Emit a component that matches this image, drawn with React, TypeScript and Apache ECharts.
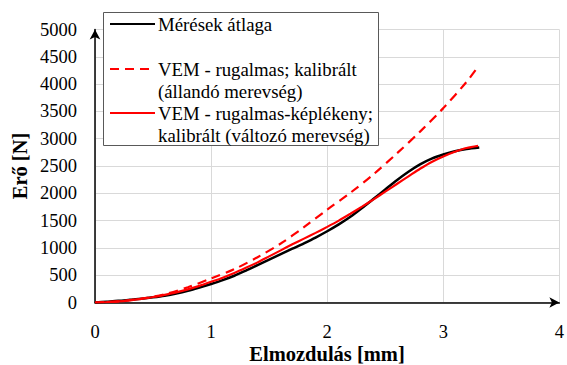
import React, { useEffect, useRef } from "react";
import * as echarts from "echarts";

// Mérések átlaga (measured average)
const measX = [0, 0.1, 0.2, 0.3, 0.4, 0.5, 0.6, 0.7, 0.8, 0.9, 1.0, 1.1, 1.2, 1.3, 1.4, 1.5, 1.6, 1.7, 1.8, 1.9, 2.0, 2.1, 2.2, 2.3, 2.4, 2.5, 2.6, 2.7, 2.8, 2.9, 3.0, 3.1, 3.2, 3.31];
const measY = [0, 15, 30, 50, 70, 95, 125, 165, 215, 275, 340, 410, 490, 585, 685, 785, 885, 985, 1085, 1190, 1305, 1430, 1570, 1730, 1900, 2070, 2240, 2395, 2530, 2635, 2710, 2770, 2812, 2840];

// VEM - rugalmas; kalibrált (állandó merevség)
const elasX = [0, 0.2, 0.4, 0.6, 0.8, 1.0, 1.2, 1.4, 1.6, 1.8, 2.0, 2.2, 2.4, 2.6, 2.8, 3.0, 3.2, 3.3];
const elasY = [0, 20, 70, 150, 280, 440, 610, 830, 1080, 1380, 1700, 2010, 2350, 2730, 3130, 3560, 4040, 4320];

// VEM - rugalmas-képlékeny; kalibrált (változó merevség)
const plasX = [0, 0.1, 0.2, 0.3, 0.4, 0.5, 0.6, 0.7, 0.8, 0.9, 1.0, 1.1, 1.2, 1.3, 1.4, 1.5, 1.6, 1.7, 1.8, 1.9, 2.0, 2.1, 2.2, 2.3, 2.4, 2.5, 2.6, 2.7, 2.8, 2.9, 3.0, 3.1, 3.2, 3.3];
const plasY = [0, 8, 20, 40, 65, 100, 140, 185, 240, 305, 380, 455, 540, 635, 735, 845, 955, 1065, 1170, 1275, 1385, 1500, 1625, 1755, 1890, 2030, 2170, 2310, 2450, 2575, 2675, 2760, 2830, 2870];

const legendLabels = [
  ["Mérések átlaga"],
  ["VEM - rugalmas; kalibrált", "(állandó merevség)"],
  ["VEM - rugalmas-képlékeny;", "kalibrált (változó merevség)"],
];

const xTitle = "Elmozdulás [mm]";
const yTitle = "Erő [N]";

const FONT = "Times New Roman, Liberation Serif, serif";

const zip = (xs: number[], ys: number[]) => xs.map((x, i) => [x, ys[i]]);

export default function App() {
  const ref = useRef<HTMLDivElement>(null);
  useEffect(() => {
    if (!ref.current) return;
    const chart = echarts.init(ref.current, undefined, { renderer: "svg" });
    const legendText = (text: string, y: number) => ({
      type: "text",
      z: 101,
      style: { text, x: 158, y, fontSize: 18.8, fontFamily: FONT, fill: "#000", verticalAlign: "middle", align: "left" },
    });
    const legendLine = (y: number, color: string, dash?: number[]) => ({
      type: "line",
      z: 101,
      shape: { x1: 110, y1: y, x2: 155, y2: y },
      style: { stroke: color, lineWidth: 2, lineDash: dash },
    });
    chart.setOption({
      animation: false,
      backgroundColor: "#fff",
      textStyle: { fontFamily: FONT },
      grid: { left: 95, right: 5, top: 29.5, bottom: 62.5, containLabel: false },
      xAxis: {
        type: "value",
        min: 0,
        max: 4,
        interval: 1,
        axisLine: { show: true, symbol: ["none", "arrow"], symbolSize: [8, 10], lineStyle: { color: "#000", width: 1.5 } },
        axisTick: { show: false },
        axisLabel: { color: "#000", fontSize: 18.5, fontFamily: FONT, margin: 20, formatter: (v: number) => String(v) },
        splitLine: { show: true, lineStyle: { color: "#d9d9d9", width: 1 } },
      },
      yAxis: {
        type: "value",
        min: 0,
        max: 5000,
        interval: 500,
        axisLine: { show: true, symbol: ["none", "arrow"], symbolSize: [8, 10], lineStyle: { color: "#000", width: 1.5 } },
        axisTick: { show: false },
        axisLabel: { color: "#000", fontSize: 18.5, fontFamily: FONT, margin: 18, formatter: (v: number) => String(v) },
        splitLine: { show: true, lineStyle: { color: "#d9d9d9", width: 1 } },
      },
      series: [
        {
          type: "line",
          name: legendLabels[0].join(" "),
          data: zip(measX, measY),
          showSymbol: false,
          smooth: 0.3,
          lineStyle: { color: "#000", width: 2.5 },
        },
        {
          type: "line",
          name: legendLabels[1].join(" "),
          data: zip(elasX, elasY),
          showSymbol: false,
          smooth: 0.3,
          lineStyle: { color: "#ff0000", width: 2.2, type: [9, 6] },
        },
        {
          type: "line",
          name: legendLabels[2].join(" "),
          data: zip(plasX, plasY),
          showSymbol: false,
          smooth: 0.3,
          lineStyle: { color: "#ff0000", width: 2.2 },
        },
      ],
      graphic: [
        {
          type: "rect",
          z: 100,
          shape: { x: 103.5, y: 12.5, width: 275, height: 133 },
          style: { fill: "#fff", stroke: "#595959", lineWidth: 1 },
        },
        legendLine(24, "#000"),
        legendLine(69, "#ff0000", [9, 6]),
        legendLine(113, "#ff0000"),
        legendText(legendLabels[0][0], 24),
        legendText(legendLabels[1][0], 69),
        legendText(legendLabels[1][1], 91),
        legendText(legendLabels[2][0], 113),
        legendText(legendLabels[2][1], 135),
        {
          type: "text",
          z: 101,
          x: 327,
          y: 354,
          style: { text: xTitle, fontSize: 20.5, fontWeight: "bold", fontFamily: FONT, fill: "#000", align: "center", verticalAlign: "middle" },
        },
        {
          type: "text",
          z: 101,
          x: 20,
          y: 166,
          rotation: Math.PI / 2,
          style: { text: yTitle, fontSize: 20.5, fontWeight: "bold", fontFamily: FONT, fill: "#000", align: "center", verticalAlign: "middle" },
        },
      ],
    });
    return () => chart.dispose();
  }, []);
  return <div ref={ref} style={{ width: 567, height: 365, position: "absolute", left: 0, top: 0 }} />;
}
